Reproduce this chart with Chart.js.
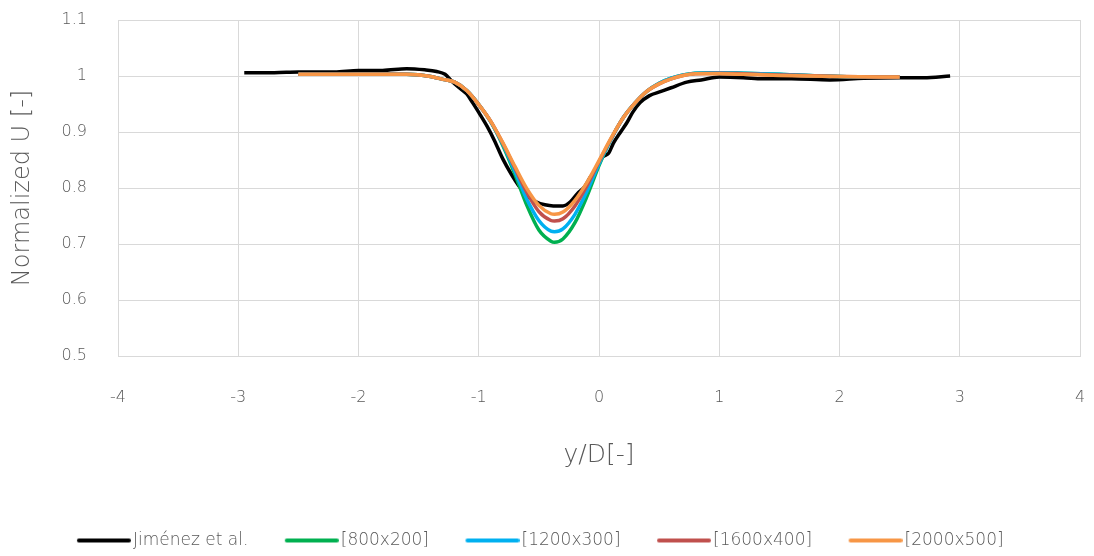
<!DOCTYPE html>
<html>
<head>
<meta charset="utf-8">
<script src="https://cdn.jsdelivr.net/npm/chart.js@4.4.1/dist/chart.umd.min.js"></script>
<style>
    html, body { margin: 0; padding: 0; background: #ffffff; }
    #wrap { width: 1094px; height: 556px; }
</style>
</head>
<body>
<div id="wrap"><canvas id="wakeChart" width="1094" height="556"></canvas></div>
<script>
/* =========================================================
   1. DATA
========================================================= */

const xTicks = [-4, -3, -2, -1, 0, 1, 2, 3, 4];
const yTicks = [0.5, 0.6, 0.7, 0.8, 0.9, 1.0, 1.1];

const seriesNames = ['Jiménez et al.', '[800x200]', '[1200x300]', '[1600x400]', '[2000x500]'];

// experimental profile
const jimenezX = [-2.95, -2.7, -2.5, -2.2, -2.0, -1.8, -1.6, -1.45, -1.35, -1.28, -1.22, -1.15, -1.1, -1.05, -1.0,
    -0.93, -0.87, -0.8, -0.73, -0.66, -0.59, -0.52, -0.45, -0.38, -0.3, -0.24, -0.18, -0.12, -0.07, -0.02,
    0.03, 0.08, 0.12, 0.18, 0.23, 0.28, 0.34, 0.42, 0.51, 0.6, 0.73, 0.85, 1.0, 1.2, 1.36, 1.6, 1.92, 2.2, 2.5, 2.7, 2.92];
const jimenezU = [1.006, 1.006, 1.007, 1.007, 1.010, 1.010, 1.013, 1.011, 1.008, 1.003, 0.990, 0.977, 0.968, 0.952, 0.935,
    0.910, 0.885, 0.852, 0.825, 0.802, 0.785, 0.775, 0.770, 0.768, 0.768, 0.775, 0.790, 0.802, 0.820, 0.835,
    0.855, 0.862, 0.880, 0.900, 0.916, 0.935, 0.952, 0.965, 0.972, 0.979, 0.989, 0.993, 0.998, 0.997, 0.995, 0.995, 0.993, 0.996, 0.997, 0.997, 1.000];

// simulations share one y/D grid
const simX = [-2.5, -2.0, -1.6, -1.4, -1.3, -1.2, -1.1, -1.0, -0.9, -0.8, -0.7, -0.6, -0.5, -0.4, -0.37, -0.3,
    -0.2, -0.1, 0.0, 0.1, 0.2, 0.3, 0.4, 0.5, 0.6, 0.7, 0.8, 1.0, 1.2, 1.5, 2.0, 2.5];
const mesh800U = [1.003, 1.003, 1.003, 0.999, 0.994, 0.989, 0.974, 0.949, 0.918, 0.876, 0.825, 0.769, 0.725, 0.705, 0.703, 0.709,
    0.738, 0.785, 0.840, 0.887, 0.925, 0.952, 0.973, 0.987, 0.996, 1.002, 1.005, 1.006, 1.005, 1.003, 0.999, 0.998];
const mesh1200U = [1.003, 1.003, 1.003, 0.999, 0.994, 0.989, 0.974, 0.949, 0.918, 0.878, 0.830, 0.780, 0.742, 0.723, 0.722, 0.727,
    0.753, 0.794, 0.843, 0.887, 0.925, 0.952, 0.973, 0.987, 0.996, 1.002, 1.005, 1.006, 1.005, 1.003, 0.999, 0.998];
const mesh1600U = [1.003, 1.003, 1.003, 0.999, 0.994, 0.989, 0.974, 0.949, 0.919, 0.880, 0.836, 0.792, 0.758, 0.742, 0.741, 0.745,
    0.768, 0.804, 0.847, 0.888, 0.925, 0.952, 0.973, 0.986, 0.995, 1.001, 1.004, 1.005, 1.004, 1.002, 0.999, 0.998];
const mesh2000U = [1.003, 1.003, 1.003, 0.999, 0.994, 0.989, 0.974, 0.949, 0.919, 0.881, 0.839, 0.799, 0.769, 0.754, 0.753, 0.757,
    0.778, 0.810, 0.849, 0.889, 0.925, 0.952, 0.973, 0.986, 0.995, 1.001, 1.004, 1.004, 1.003, 1.001, 0.999, 0.998];

const lineColors = ['#000000', '#00B050', '#00B0F0', '#C0504D', '#F79646'];

/* =========================================================
   2. HELPERS
========================================================= */

function toPoints(xs, ys) {
    return xs.map((x, i) => ({ x: x, y: ys[i] }));
}

function makeDataset(index, xs, ys) {
    return {
        label: seriesNames[index],
        data: toPoints(xs, ys),
        borderColor: lineColors[index],
        backgroundColor: lineColors[index],
        borderWidth: 3.5,
        pointRadius: 0,
        showLine: true,
        cubicInterpolationMode: 'monotone',
        // excel paints the last series on top
        order: seriesNames.length - index
    };
}

// legend swatch: a short thick line that sits right against the label
function makeLegendLine(color) {
    const c = document.createElement('canvas');
    c.width = 61;
    c.height = 6;
    const g = c.getContext('2d');
    g.strokeStyle = color;
    g.lineWidth = 4;
    g.lineCap = 'round';
    g.beginPath();
    g.moveTo(9, 3);
    g.lineTo(59, 3);
    g.stroke();
    return c;
}

const legendLines = lineColors.map(makeLegendLine);

/* =========================================================
   3. CHART
========================================================= */

Chart.defaults.font.family = '"DejaVu Sans", sans-serif';
Chart.defaults.font.weight = 200;
Chart.defaults.color = '#595959';

const ctx = document.getElementById('wakeChart');

new Chart(ctx, {
    type: 'scatter',
    data: {
        datasets: [
            makeDataset(0, jimenezX, jimenezU),
            makeDataset(1, simX, mesh800U),
            makeDataset(2, simX, mesh1200U),
            makeDataset(3, simX, mesh1600U),
            makeDataset(4, simX, mesh2000U)
        ]
    },
    options: {
        responsive: false,
        devicePixelRatio: 1,
        animation: false,
        layout: { padding: { left: 0, right: 14, top: 20, bottom: -3 } },
        plugins: {
            tooltip: { enabled: false },
            legend: {
                position: 'bottom',
                labels: {
                    usePointStyle: true,
                    pointStyleWidth: 48,
                    boxHeight: 6,
                    padding: 36,
                    color: '#595959',
                    font: { size: 17 },
                    sort: (a, b) => a.datasetIndex - b.datasetIndex,
                    generateLabels: chart =>
                        Chart.defaults.plugins.legend.labels.generateLabels(chart)
                            .map(item => ({ ...item, pointStyle: legendLines[item.datasetIndex] }))
                }
            }
        },
        scales: {
            x: {
                type: 'linear',
                min: xTicks[0],
                max: xTicks[xTicks.length - 1],
                afterBuildTicks: scale => { scale.ticks = xTicks.map(v => ({ value: v })); },
                afterFit: scale => {
                    scale.height = 140;
                    // tick padding should not eat into the plot
                    scale.paddingLeft = 6;
                    scale.paddingRight = 6;
                },
                ticks: { padding: 32, font: { size: 16 }, color: '#595959' },
                grid: { color: '#d9d9d9', lineWidth: 1, drawTicks: false },
                border: { color: '#d9d9d9' },
                title: {
                    display: true,
                    text: 'y/D[-]',
                    color: '#595959',
                    font: { size: 25 },
                    padding: { top: 26, bottom: 26 }
                }
            },
            y: {
                type: 'linear',
                min: yTicks[0],
                max: yTicks[yTicks.length - 1],
                afterBuildTicks: scale => { scale.ticks = yTicks.map(v => ({ value: v })); },
                afterFit: scale => {
                    scale.width = 118;
                    scale.paddingTop = 10;
                    scale.paddingBottom = 10;
                },
                ticks: {
                    padding: 31,
                    font: { size: 16 },
                    color: '#595959',
                    callback: v => String(+v.toFixed(1))
                },
                grid: { color: '#d9d9d9', lineWidth: 1, drawTicks: false },
                border: { color: '#d9d9d9' },
                title: {
                    display: true,
                    text: 'Normalized U [-]',
                    color: '#595959',
                    font: { size: 24 },
                    padding: { top: 8, bottom: 8 }
                }
            }
        }
    }
});
</script>
</body>
</html>
